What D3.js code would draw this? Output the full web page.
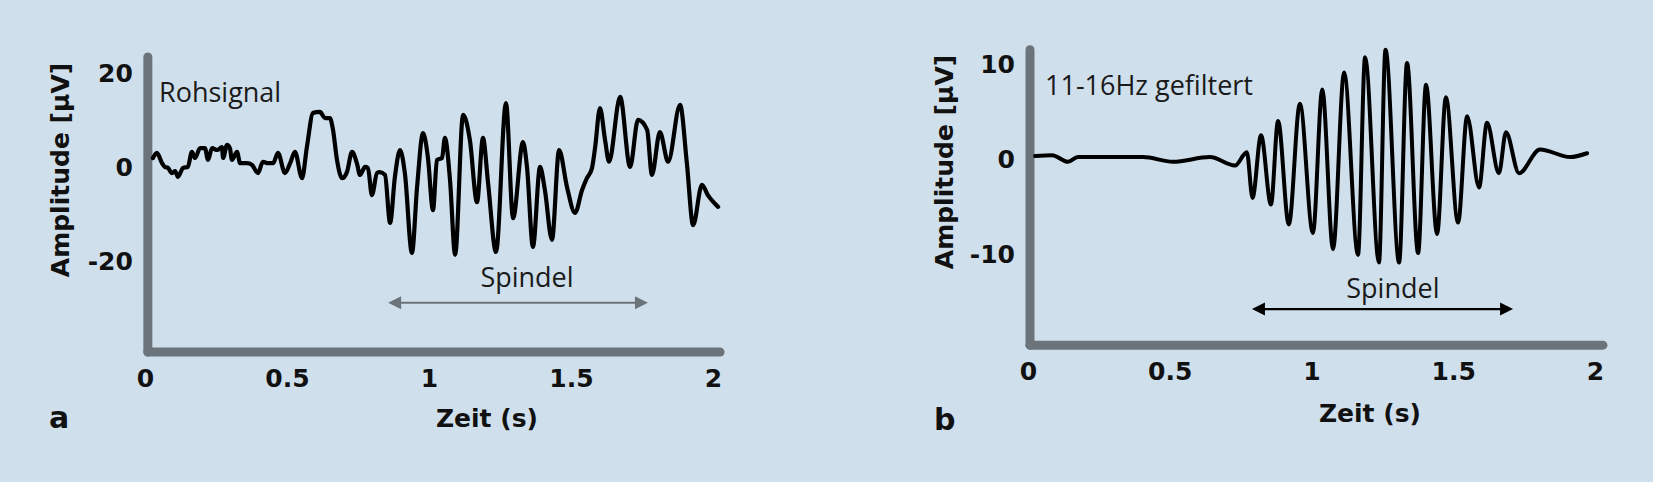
<!DOCTYPE html>
<html>
<head>
<meta charset="utf-8">
<script src="https://cdn.jsdelivr.net/npm/d3@7"></script>
<style>
  html, body { margin: 0; padding: 0; background: #cfe0ec; }
  svg { display: block; }
</style>
</head>
<body>
<svg id="chart" width="1653" height="482"></svg>
<script>
// ---------- DATA ----------
// Panel a: raw EEG signal (time in s, amplitude in µV)
const rawTime = [0.028,0.042,0.060,0.070,0.081,0.095,0.106,0.116,0.134,0.151,0.165,0.176,0.194,0.211,0.222,0.236,0.254,0.271,0.275,0.289,0.299,0.306,0.324,0.335,0.359,0.377,0.398,0.415,0.433,0.451,0.468,0.493,0.511,0.528,0.553,0.570,0.592,0.616,0.634,0.651,0.662,0.676,0.694,0.711,0.729,0.746,0.757,0.775,0.785,0.799,0.817,0.827,0.845,0.863,0.880,0.898,0.915,0.940,0.958,0.979,0.996,1.014,1.028,1.046,1.056,1.074,1.092,1.120,1.144,1.169,1.190,1.208,1.236,1.271,1.296,1.331,1.345,1.366,1.391,1.408,1.433,1.458,1.486,1.514,1.539,1.556,1.574,1.585,1.602,1.620,1.634,1.673,1.708,1.736,1.768,1.785,1.813,1.842,1.884,1.908,1.930,1.961,1.982,2.018];
const rawAmp  = [1.7,2.8,0.6,-0.2,-0.4,-1.5,-1.1,-2.3,-0.4,-0.2,3.0,1.7,3.8,3.8,1.3,3.8,3.4,4.0,1.7,4.5,3.8,1.3,3.0,0.6,0.6,0.2,-1.5,0.9,0.6,0.6,2.8,-1.5,0.6,3.0,-2.6,4.0,11.3,11.5,10.2,10.2,7.7,1.3,-2.6,-1.3,3.0,0.6,-1.9,-0.2,-0.4,-6.2,-1.5,-1.3,-1.9,-12.1,-2.3,3.4,-1.5,-18.5,-4.5,7.0,1.9,-9.4,1.3,1.7,6.0,-3.0,-18.9,10.9,5.5,-7.7,6.0,-3.6,-18.3,13.4,-11.1,5.1,-0.2,-17.2,-0.2,-5.1,-15.7,3.4,-4.5,-10.0,-5.1,-2.6,-0.4,4.0,12.3,5.5,0.9,14.7,-0.2,9.8,7.7,-1.9,7.2,0.9,13.0,0.6,-12.6,-4.0,-6.2,-8.7];

// Panel b: 11-16 Hz filtered signal
const filtTime = [0.025,0.085,0.141,0.176,0.325,0.406,0.511,0.642,0.730,0.772,0.792,0.822,0.857,0.882,0.920,0.959,1.005,1.038,1.076,1.115,1.164,1.189,1.238,1.261,1.309,1.337,1.376,1.404,1.443,1.474,1.517,1.549,1.591,1.619,1.661,1.686,1.732,1.806,1.912,1.972];
const filtAmp  = [0.2,0.3,-0.4,0.1,0.1,0.1,-0.4,0.1,-0.8,0.6,-4.2,2.4,-4.9,3.9,-7.0,5.7,-7.9,7.2,-9.6,9.0,-10.2,10.6,-11.0,11.4,-11.0,10.0,-10.0,7.7,-8.0,6.4,-6.8,4.4,-3.1,3.7,-1.6,2.7,-1.6,0.9,0.1,0.5];

// Axis tick values / labels
const xTicks  = [0, 0.5, 1, 1.5, 2];
const yTicksA = [-20, 0, 20];
const yTicksB = [-10, 0, 10];

// Axis extents (data units)
const xExtentA = [0.01, 2.025];
const yExtentA = [-39.6, 23.2];
const xExtentB = [0.007, 2.028];
const yExtentB = [-19.7, 11.4];

// Spindle annotation: [start, end] in s, arrow level, label level (µV)
const spindleA = { start: 0.856, end: 1.771, arrowAmp: -29.1, labelAmp: -25.7, labelTime: 1.345 };
const spindleB = { start: 0.790, end: 1.711, arrowAmp: -15.9, labelAmp: -14.7, labelTime: 1.287 };

const titles = { a: "Rohsignal", b: "11-16Hz gefiltert" };

// ---------- DRAW ----------
const svg = d3.select("#chart");
const AXIS_COL = "#6b737b";
const BOLD = "'DejaVu Sans', Verdana, sans-serif";
const REG  = "'Open Sans', 'Noto Sans', sans-serif";
const plainFmt = d => String(d);

function panel(cfg) {
  const g = svg.append("g");
  const x = d3.scaleLinear().domain([0, 2]).range(cfg.xRange);
  const y = d3.scaleLinear().domain(cfg.yDom).range(cfg.yRange);

  // axes lines
  g.append("line")
    .attr("x1", x(cfg.xExt[0])).attr("x2", x(cfg.xExt[0]))
    .attr("y1", y(cfg.yExt[1])).attr("y2", y(cfg.yExt[0]))
    .attr("stroke", AXIS_COL).attr("stroke-width", 9).attr("stroke-linecap", "round");
  g.append("line")
    .attr("x1", x(cfg.xExt[0])).attr("x2", x(cfg.xExt[1]))
    .attr("y1", y(cfg.yExt[0])).attr("y2", y(cfg.yExt[0]))
    .attr("stroke", AXIS_COL).attr("stroke-width", 9).attr("stroke-linecap", "round");

  // x axis labels
  const xa = g.append("g")
    .attr("transform", `translate(0,${y(cfg.yExt[0])})`)
    .call(d3.axisBottom(x).tickValues(xTicks).tickFormat(plainFmt).tickSize(0).tickPadding(17));
  xa.select(".domain").remove();
  xa.selectAll("text").attr("font-family", BOLD).attr("font-weight", "bold")
    .attr("font-size", 25).attr("fill", "#111");

  // y axis labels
  const ya = g.append("g")
    .attr("transform", `translate(${x(cfg.xExt[0])},0)`)
    .call(d3.axisLeft(y).tickValues(cfg.yTicks).tickFormat(plainFmt).tickSize(0).tickPadding(15));
  ya.select(".domain").remove();
  ya.selectAll("text").attr("font-family", BOLD).attr("font-weight", "bold")
    .attr("font-size", 25).attr("fill", "#111").attr("dy", "0.36em");

  // y title
  g.append("text")
    .attr("transform", `translate(${cfg.yTitlePos[0]},${cfg.yTitlePos[1]}) rotate(-90)`)
    .attr("text-anchor", "middle")
    .attr("font-family", BOLD).attr("font-weight", "bold").attr("font-size", 25).attr("fill", "#111")
    .text("Amplitude [µV]");

  // x title
  g.append("text")
    .attr("x", cfg.xTitlePos[0]).attr("y", cfg.xTitlePos[1])
    .attr("text-anchor", "middle")
    .attr("font-family", BOLD).attr("font-weight", "bold").attr("font-size", 25).attr("fill", "#111")
    .text("Zeit (s)");

  // panel letter
  g.append("text")
    .attr("x", cfg.letterPos[0]).attr("y", cfg.letterPos[1])
    .attr("font-family", BOLD).attr("font-weight", "bold").attr("font-size", 30).attr("fill", "#111")
    .text(cfg.letter);

  // title
  g.append("text")
    .attr("x", cfg.titlePos[0]).attr("y", cfg.titlePos[1])
    .attr("font-family", REG).attr("font-size", 27).attr("fill", "#1a1a1a")
    .text(cfg.title);

  // signal
  const pts = cfg.t.map((t, i) => [t, cfg.v[i]]);
  g.append("path")
    .attr("d", d3.line().x(d => x(d[0])).y(d => y(d[1])).curve(d3.curveMonotoneX)(pts))
    .attr("fill", "none").attr("stroke", "#000").attr("stroke-width", cfg.lw)
    .attr("stroke-linejoin", "round").attr("stroke-linecap", "round");

  // spindle arrow
  const s = cfg.spindle;
  const ay = y(s.arrowAmp), x1 = x(s.start), x2 = x(s.end);
  const hl = 13, hw = 6.5;
  g.append("line").attr("x1", x1 + hl - 2).attr("x2", x2 - hl + 2).attr("y1", ay).attr("y2", ay)
    .attr("stroke", cfg.arrowCol).attr("stroke-width", 2.2);
  g.append("path").attr("d", `M${x1},${ay} L${x1 + hl},${ay - hw} L${x1 + hl},${ay + hw} Z`).attr("fill", cfg.arrowCol);
  g.append("path").attr("d", `M${x2},${ay} L${x2 - hl},${ay - hw} L${x2 - hl},${ay + hw} Z`).attr("fill", cfg.arrowCol);
  g.append("text")
    .attr("x", x(s.labelTime)).attr("y", y(s.labelAmp))
    .attr("text-anchor", "middle")
    .attr("font-family", REG).attr("font-size", 27).attr("fill", "#1a1a1a")
    .text("Spindel");
}

panel({
  letter: "a", title: titles.a,
  xRange: [145, 713], yDom: [-20, 20], yRange: [260, 72],
  xExt: xExtentA, yExt: yExtentA, yTicks: yTicksA,
  t: rawTime, v: rawAmp, lw: 4.2,
  spindle: spindleA, arrowCol: "#6b737b",
  yTitlePos: [69, 170], xTitlePos: [487, 427], letterPos: [49, 428], titlePos: [159, 102]
});

panel({
  letter: "b", title: titles.b,
  xRange: [1028, 1595], yDom: [-10, 10], yRange: [253, 63],
  xExt: xExtentB, yExt: yExtentB, yTicks: yTicksB,
  t: filtTime, v: filtAmp, lw: 4.0,
  spindle: spindleB, arrowCol: "#000",
  yTitlePos: [953, 162], xTitlePos: [1370, 422], letterPos: [934, 430], titlePos: [1045, 95]
});
</script>
</body>
</html>
